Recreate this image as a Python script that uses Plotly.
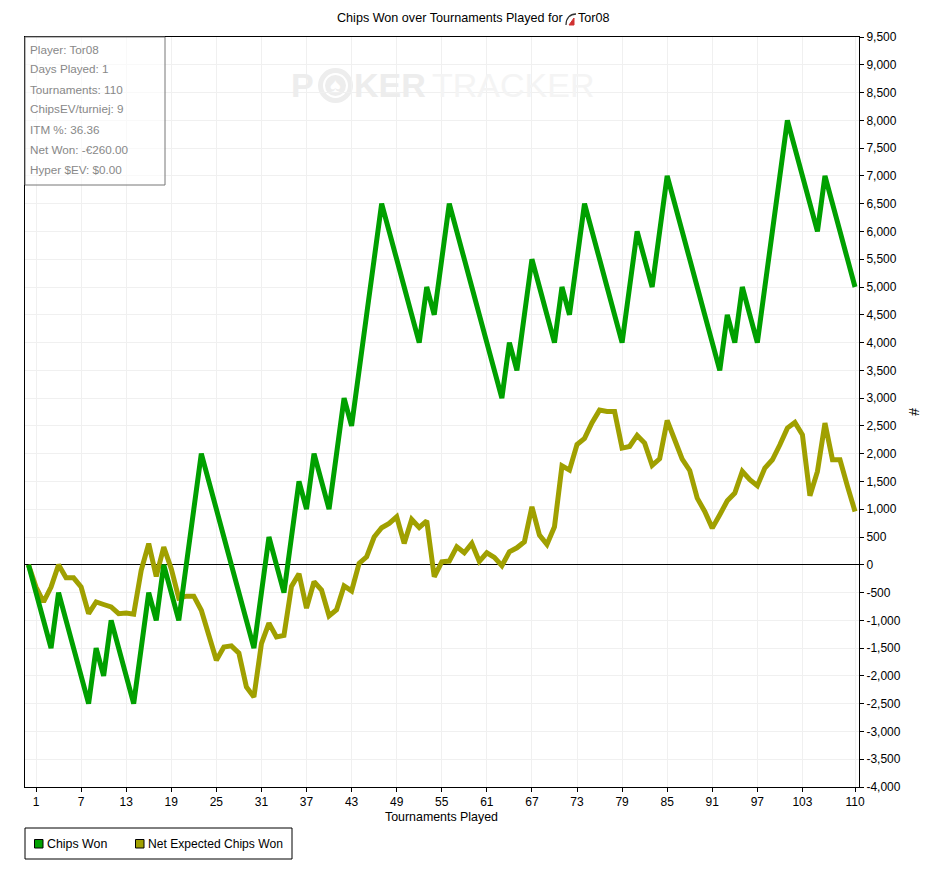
import plotly.graph_objects as go

tournaments = list(range(0, 111))
chips_won = [0, -500, -1000, -1500, -500, -1000, -1500, -2000, -2500, -1500, -2000, -1000, -1500, -2000, -2500,
             -1500, -500, -1000, 0, -500, -1000, 0, 1000, 2000, 1500, 1000, 500, 0, -500, -1000,
             -1500, -500, 500, 0, -500, 500, 1500, 1000, 2000, 1500, 1000, 2000, 3000, 2500, 3500,
             4500, 5500, 6500, 6000, 5500, 5000, 4500, 4000, 5000, 4500, 5500, 6500, 6000, 5500, 5000,
             4500, 4000, 3500, 3000, 4000, 3500, 4500, 5500, 5000, 4500, 4000, 5000, 4500, 5500, 6500,
             6000, 5500, 5000, 4500, 4000, 5000, 6000, 5500, 5000, 6000, 7000, 6500, 6000, 5500, 5000,
             4500, 4000, 3500, 4500, 4000, 5000, 4500, 4000, 5000, 6000, 7000, 8000, 7500, 7000, 6500,
             6000, 7000, 6500, 6000, 5500, 5000]
net_expected = [0, -400, -670, -400, 0, -235, -235, -400, -880, -670, -715, -760, -880, -870, -890,
                -100, 380, -210, 320, -70, -600, -565, -565, -820, -1270, -1720, -1480, -1460, -1590, -2200,
                -2380, -1420, -1050, -1300, -1270, -390, -160, -780, -306, -456, -920, -810, -380, -470, 24,
                144, 500, 666, 744, 864, 384, 816, 672, 792, -216, 54, 66, 324, 216, 384,
                60, 216, 132, -18, 234, 306, 414, 1044, 534, 366, 684, 1782, 1704, 2166, 2274,
                2556, 2784, 2760, 2760, 2100, 2130, 2328, 2190, 1788, 1908, 2598, 2250, 1902, 1698, 1200,
                960, 660, 900, 1152, 1290, 1680, 1530, 1422, 1740, 1890, 2160, 2460, 2562, 2340, 1242,
                1680, 2550, 1890, 1890, 1410, 960]
x_ticks = [1, 7, 13, 19, 25, 31, 37, 43, 49, 55, 61, 67, 73, 79, 85, 91, 97, 103, 110]
y_ticks = list(range(-4000, 9501, 500))
stats = ["Player: Tor08", "Days Played: 1", "Tournaments: 110", "ChipsEV/turniej: 9",
         "ITM %: 36.36", "Net Won: -€260.00", "Hyper $EV: $0.00"]
series_names = ["Chips Won", "Net Expected Chips Won"]
series_colors = ["#00A000", "#A0A000"]

W, H = 931, 875
PAGE = 8  # default page margin of the browser body
L, R, T, B = 25, 859, 37, 787
FONT = "Liberation Sans"


def px(v):
    return (v - L) / (R - L)


def py(v):
    return (B - v) / (B - T)


fig = go.Figure()
fig.add_trace(go.Scatter(x=tournaments, y=net_expected, mode="lines", name=series_names[1], hoverinfo="skip",
                         line=dict(color=series_colors[1], width=5, simplify=False)))
fig.add_trace(go.Scatter(x=tournaments, y=chips_won, mode="lines", name=series_names[0], hoverinfo="skip",
                         line=dict(color=series_colors[0], width=5, simplify=False)))

anns = []
shapes = []


def label(x, y, text, size=12, color="black", anchor="left", angle=None):
    d = dict(xref="paper", yref="paper", x=px(x), y=py(y), text=text, showarrow=False, xanchor=anchor,
             yanchor="middle", font=dict(family=FONT, size=size, color=color), borderpad=0, borderwidth=0)
    if angle is not None:
        d["textangle"] = angle
    anns.append(d)


def box(x0, y0, x1, y1, fill, line, width=1, kind="rect", layer="above"):
    shapes.append(dict(type=kind, xref="paper", yref="paper", x0=px(x0), x1=px(x1), y0=py(y1), y1=py(y0),
                       fillcolor=fill, line=dict(color=line, width=width), layer=layer))


# title
label(337, 18, "Chips Won over Tournaments Played for", size=12.6)
label(578, 18, "Tor08", size=12.6)
shapes.append(dict(type="path", xref="paper", yref="paper",
                   path=f"M {px(566)} {py(25)} C {px(566)} {py(18)} {px(570)} {py(14)} {px(576)} {py(14)}",
                   line=dict(color="#333333", width=1.3)))
shapes.append(dict(type="path", xref="paper", yref="paper",
                   path=f"M {px(569)} {py(25)} L {px(574)} {py(25)} L {px(574)} {py(18)} Z",
                   fillcolor="#D03030", line=dict(color="#D03030", width=1)))

# watermark
wm_dark = "#EDEDED"
wm_light = "#F4F4F4"
label(291, 85, "<b>P</b>", size=34, color=wm_dark)
box(318, 68, 353, 103, wm_dark, wm_dark, 0, "circle", "below")
box(323, 73, 348, 98, "white", "white", 0, "circle", "below")
box(325, 75, 346, 96, wm_dark, wm_dark, 0, "circle", "below")
label(335.5, 85, "♠", size=20, color="white", anchor="center")
label(354, 85, "<b>KER</b>", size=34, color=wm_dark)
label(432, 85, "TRACKER", size=34, color=wm_light)

# stats box
box(L, T, 165, 185, "rgba(255,255,255,0.6)", "#777777")
for i, s in enumerate(stats):
    label(30, 49 + i * 20, s, size=11.7, color="#888888")

# axis titles
label(441, 817, "Tournaments Played", size=12.4, anchor="center")
label(914, 412, "#", size=14, anchor="center", angle=90)

# legend
box(25, 828, 292, 859, "white", "black")
box(34.5, 839.5, 43, 848, series_colors[0], "black")
label(47, 844, series_names[0], size=12.4)
box(135.5, 839.5, 144, 848, series_colors[1], "black")
label(148, 844, series_names[1], size=12.1)

fig.update_layout(
    width=W - PAGE, height=H - PAGE, autosize=False, showlegend=False,
    margin=dict(l=L - PAGE, r=W - R, t=T - PAGE, b=H - B, pad=0),
    paper_bgcolor="white", plot_bgcolor="white",
    font=dict(family=FONT, size=12, color="black"),
    xaxis=dict(range=[-0.466, 110.53], tickmode="array", tickvals=x_ticks, ticktext=[str(v) for v in x_ticks],
               showgrid=True, gridcolor="#F0F0F0", gridwidth=1, zeroline=False, showline=True, linecolor="black",
               linewidth=1, mirror=True, ticks="outside", ticklen=4, tickcolor="black", tickangle=0),
    yaxis=dict(range=[-4000, 9500], side="right", tickmode="array", tickvals=y_ticks,
               ticktext=[f"{v:,}" for v in y_ticks],
               showgrid=True, gridcolor="#F0F0F0", gridwidth=1, zeroline=True, zerolinecolor="black",
               zerolinewidth=1, showline=True, linecolor="black", linewidth=1, mirror=True, ticks="outside",
               ticklen=4, tickcolor="black"),
    annotations=anns, shapes=shapes,
)
fig.write_html("out.html", config=dict(displayModeBar=False))
